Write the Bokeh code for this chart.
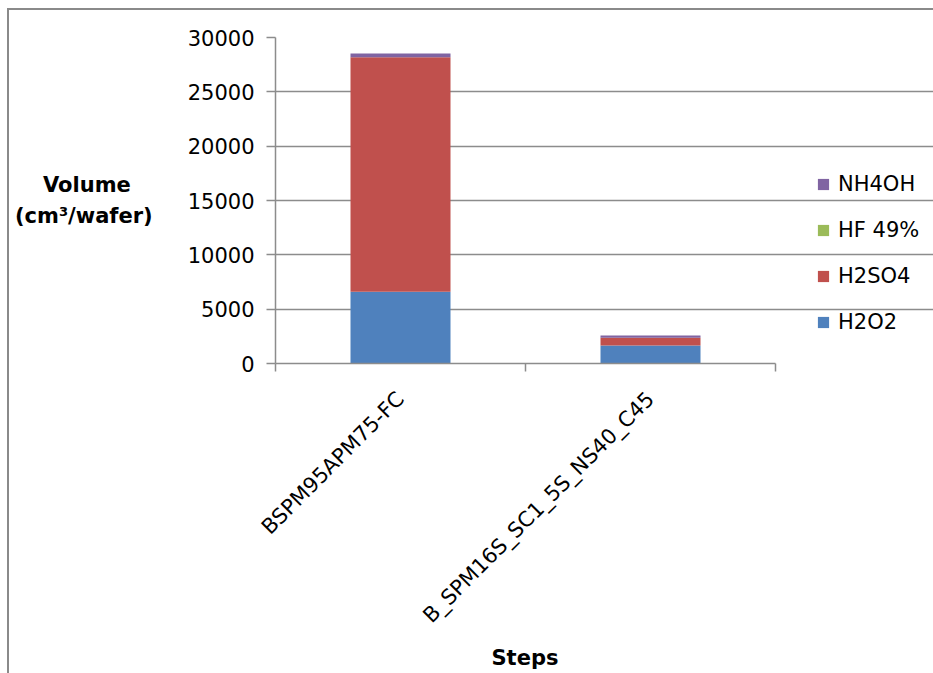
import math
from bokeh.plotting import figure
from bokeh.models import (Range1d, LinearAxis, FixedTicker, Title,
                          Legend, LegendItem, ColumnDataSource)
from bokeh.embed import file_html
from bokeh.resources import INLINE

# ---- data ----
steps = ["BSPM95APM75-FC", "B_SPM16S_SC1_5S_NS40_C45"]
series = ["H2O2", "H2SO4", "HF 49%", "NH4OH"]
h2o2 = [6600, 1660]
h2so4 = [21580, 700]
hf49 = [5, 5]
nh4oh = [340, 220]
colors = ["#4F81BD", "#C0504D", "#9BBB59", "#8064A2"]
y_ticks = [0, 5000, 10000, 15000, 20000, 25000, 30000]

FONT = "DejaVu Sans"
GRID = "#8c8c8c"

W, H = 933, 673
LEFT, TOP, BOTTOM = 275, 37, 310
CAT_PX = 250                      # pixels per category slot
n = len(steps)
x_end = (W - LEFT) / CAT_PX       # frame extends to the right edge to host the legend

xpos = [i + 0.5 for i in range(n)]
src = ColumnDataSource(dict(x=xpos, H2O2=h2o2, H2SO4=h2so4, HF=hf49, NH4OH=nh4oh))

p = figure(width=W, height=H, output_backend="svg", toolbar_location=None,
           x_range=Range1d(0, x_end), y_range=Range1d(0, 30000),
           x_axis_location=None, y_axis_location=None,
           min_border_left=LEFT, min_border_right=0, min_border_top=TOP, min_border_bottom=BOTTOM)
p.outline_line_color = None
p.border_fill_alpha = 0
p.styles = {"box-shadow": "inset 7px 8px 0 #ffffff, inset 9px 10px 0 #8a8a8a"}

rs = p.vbar_stack(["H2O2", "H2SO4", "HF", "NH4OH"], x="x", width=0.4, source=src,
                  color=colors, line_color=None)

# y axis
ya = LinearAxis(ticker=FixedTicker(ticks=y_ticks))
ya.axis_line_color = GRID
ya.axis_line_width = 1.5
ya.major_tick_line_color = GRID
ya.major_tick_line_width = 1.5
ya.major_tick_out = 9
ya.major_tick_in = 0
ya.minor_tick_line_color = None
ya.major_label_text_font = FONT
ya.major_label_text_font_size = "21px"
ya.major_label_text_color = "black"
ya.major_label_standoff = 12
ya.axis_label = "Volume\u00a0\u00a0\u00a0\n(cm³/wafer)"
ya.axis_label_orientation = "horizontal"
ya.axis_label_text_font = FONT
ya.axis_label_text_font_size = "21px"
ya.axis_label_text_font_style = "bold"
ya.axis_label_text_color = "black"
ya.axis_label_text_line_height = 1.3
ya.axis_label_standoff = 32
p.add_layout(ya, "left")

# x tick axis (boundary ticks between categories)
xt = LinearAxis(ticker=FixedTicker(ticks=list(range(n + 1))), bounds=(0, n))
xt.axis_line_color = GRID
xt.axis_line_width = 1.5
xt.major_tick_line_color = GRID
xt.major_tick_line_width = 1.5
xt.major_tick_out = 8
xt.major_tick_in = 0
xt.minor_tick_line_color = None
xt.major_label_text_font_size = "0px"
xt.major_label_standoff = 0
p.add_layout(xt, "below")

# category label axis
xc = LinearAxis(ticker=FixedTicker(ticks=xpos), bounds=(0, n),
                major_label_overrides={x: s for x, s in zip(xpos, steps)})
xc.axis_line_color = None
xc.major_tick_line_color = None
xc.major_tick_out = 0
xc.minor_tick_line_color = None
xc.major_label_orientation = math.pi / 4
xc.major_label_text_font = FONT
xc.major_label_text_font_size = "21px"
xc.major_label_text_color = "black"
xc.major_label_standoff = 24
p.add_layout(xc, "below")

# x axis title
steps_title = Title(text="Steps", align="left", offset=216, standoff=8,
                    text_font=FONT, text_font_size="21px", text_font_style="bold",
                    text_color="black")
p.add_layout(steps_title, "below")

p.xgrid.visible = False
p.ygrid.grid_line_color = GRID
p.ygrid.grid_line_width = 1.5
p.ygrid.ticker = FixedTicker(ticks=y_ticks)
p.ygrid.bounds = (0, n)

items = [LegendItem(label=series[i], renderers=[rs[i]]) for i in [3, 2, 1, 0]]
legend = Legend(items=items, location=(541, 29), padding=0, margin=0,
                glyph_width=14, glyph_height=14, label_height=20, spacing=22,
                label_standoff=8, label_text_font=FONT, label_text_font_size="21px",
                label_text_color="black", border_line_color=None, background_fill_alpha=0)
p.add_layout(legend, "center")

open("out.html", "w").write(file_html(p, INLINE))
